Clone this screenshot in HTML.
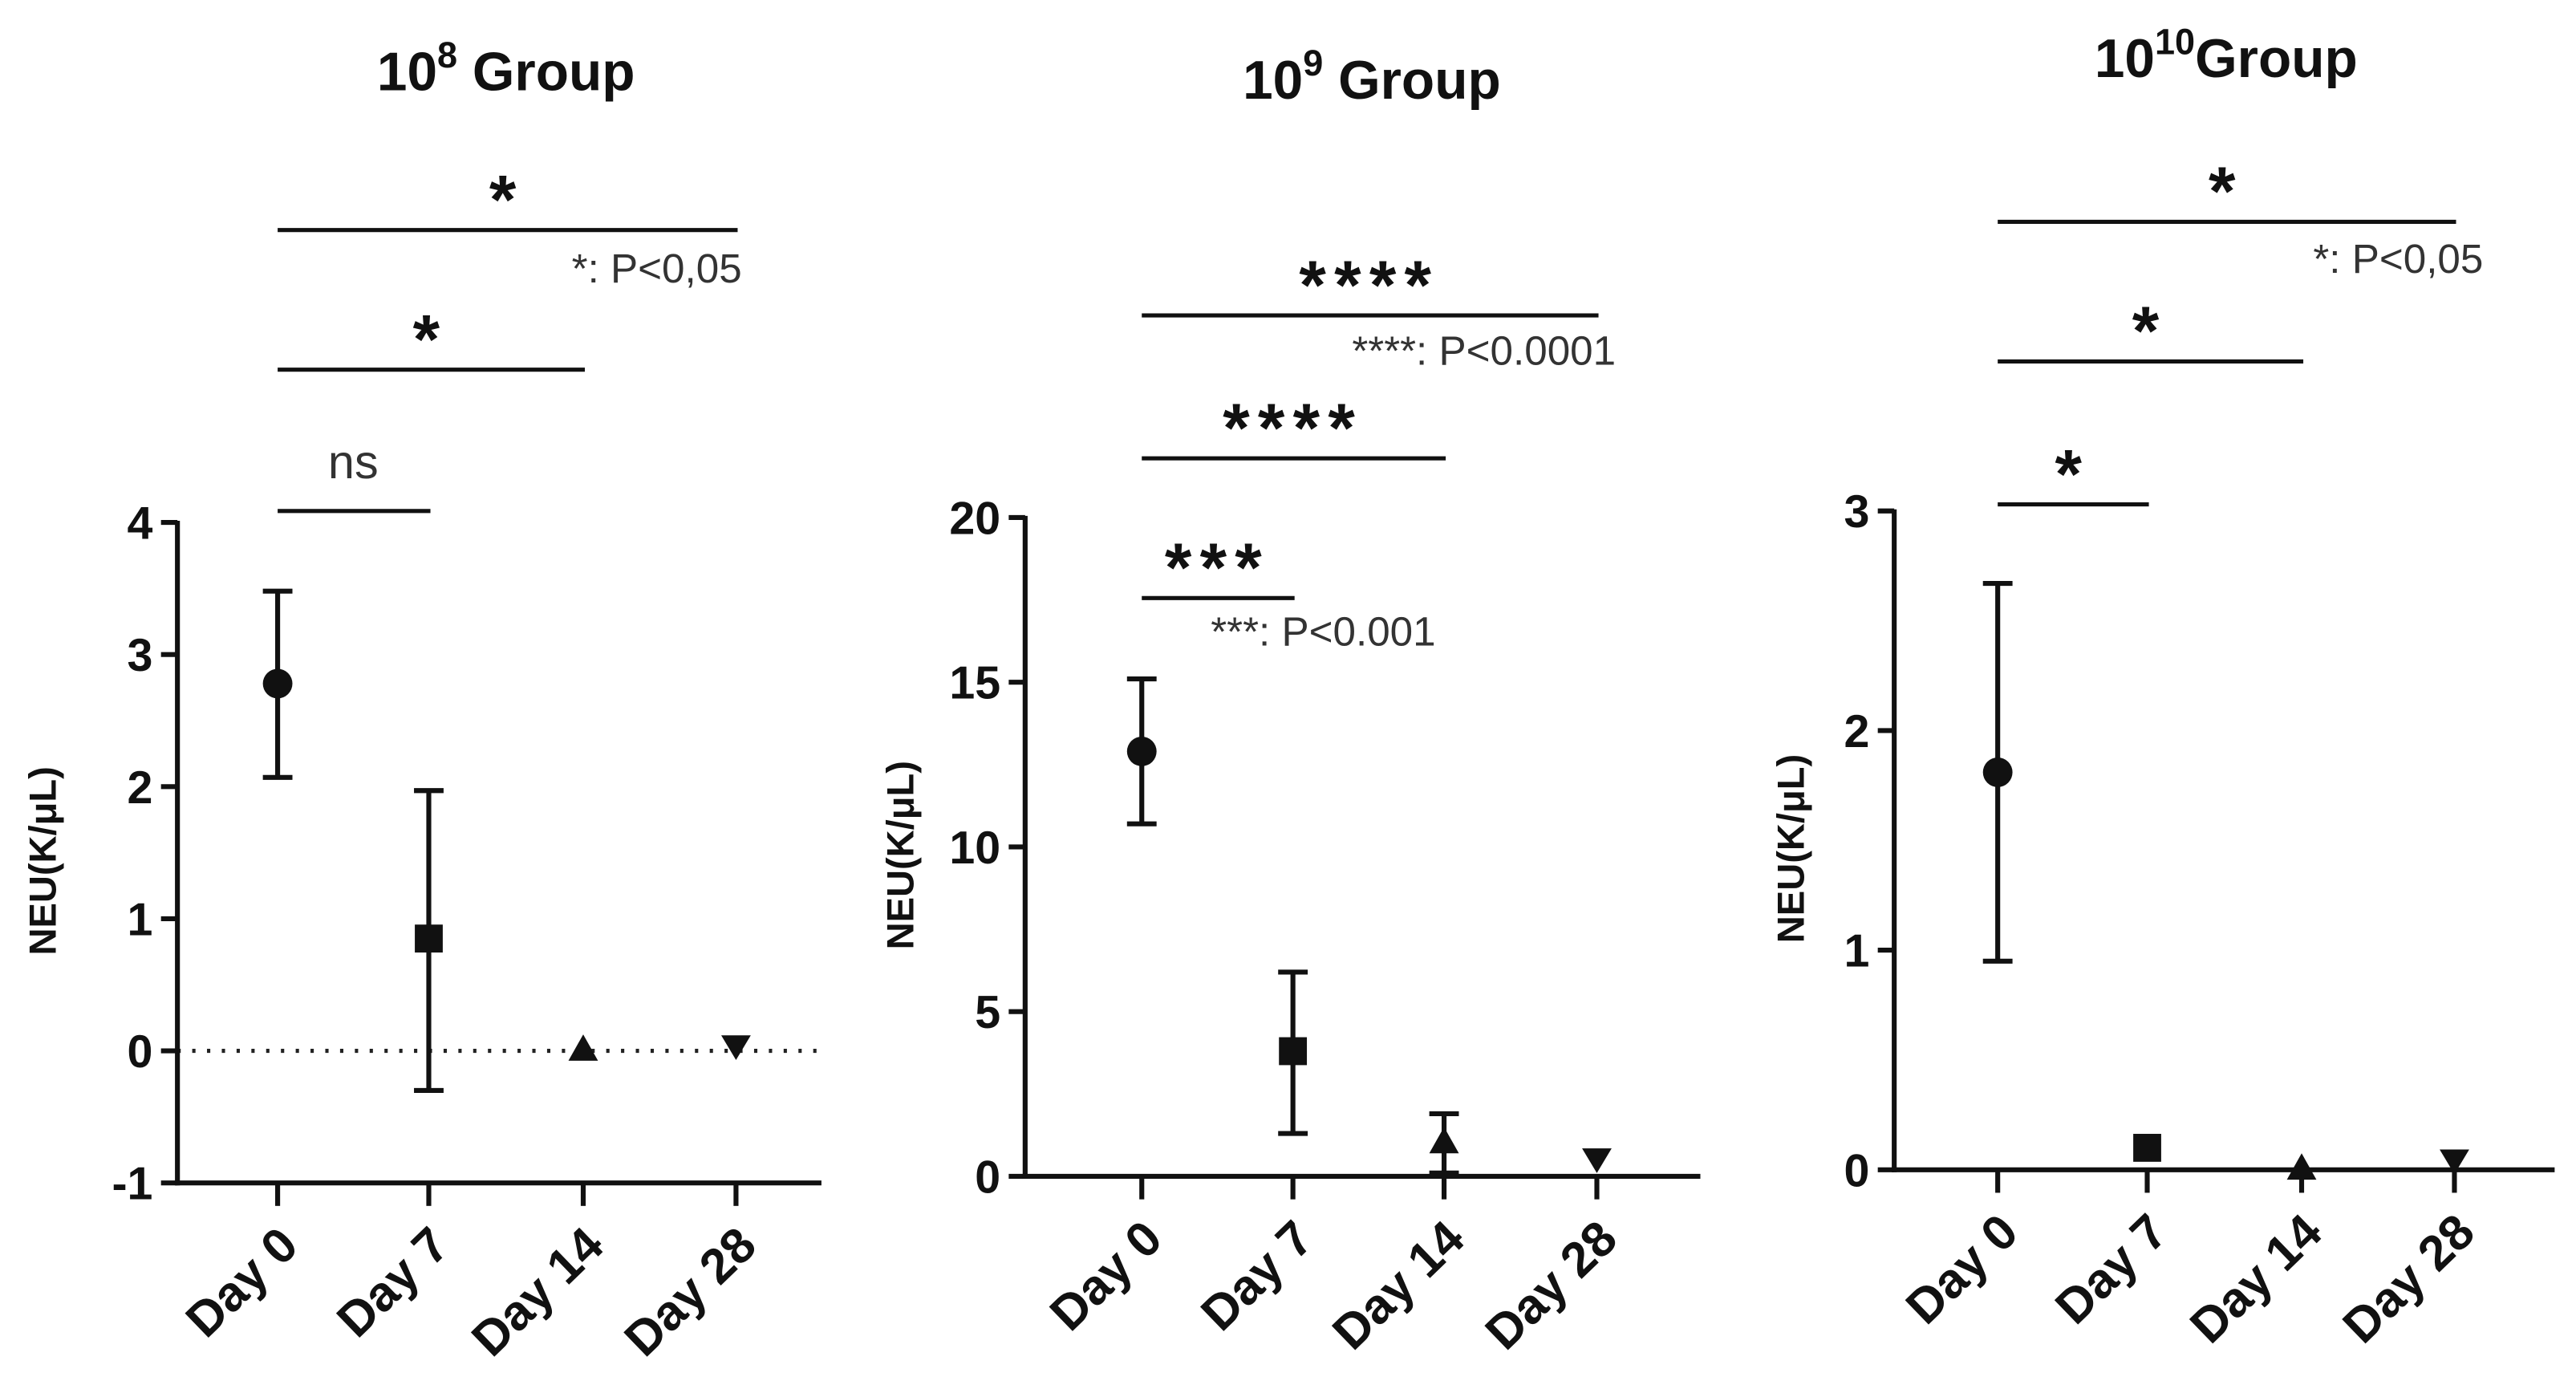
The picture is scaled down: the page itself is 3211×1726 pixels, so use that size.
<!DOCTYPE html>
<html><head><meta charset="utf-8"><style>
html,body{margin:0;padding:0;background:#fff;}
svg{display:block;font-family:"Liberation Sans",sans-serif;}
</style></head><body>
<svg id="chart" width="3211" height="1726" viewBox="0 0 1568 843" preserveAspectRatio="none" xmlns="http://www.w3.org/2000/svg"></svg>
<script>
const categories = ["Day 0","Day 7","Day 14","Day 28"];
const markers = ["circle","square","triUp","triDown"];
const g8Means = [2.78, 0.85, 0.0, 0.03];
const g8Lo = [2.07, -0.3, 0.0, 0.03];
const g8Hi = [3.48, 1.97, 0.0, 0.03];
const g8Ticks = [-1,0,1,2,3,4];
const g9Means = [12.9, 3.8, 1.0, 0.5];
const g9Lo = [10.7, 1.3, 0.1, 0.5];
const g9Hi = [15.1, 6.2, 1.9, 0.5];
const g9Ticks = [0,5,10,15,20];
const g10Means = [1.81, 0.1, 0.0, 0.04];
const g10Lo = [0.95, 0.1, 0.0, 0.04];
const g10Hi = [2.67, 0.1, 0.0, 0.04];
const g10Ticks = [0,1,2,3];

const NS="http://www.w3.org/2000/svg";
const svg=document.getElementById('chart');
function mk(tag,attrs,parent){const e=document.createElementNS(NS,tag);for(const k in attrs)e.setAttribute(k,attrs[k]);(parent||svg).appendChild(e);return e;}

const panels=[
 {id:"g8",exp:"8",sep:" ",means:g8Means,lo:g8Lo,hi:g8Hi,ticks:g8Ticks,ax:108,xEnd:500,yTop:318,yBot:720,cx:[169,261,355,448],titleX:308,titleY:55,ylx:34,dotted:true,
  brackets:[{y:140,a:0,b:3,t:"*"},{y:225,a:0,b:2,t:"*"},{y:311,a:0,b:1,t:"ns",ns:true}],
  notes:[{x:348,y:172,t:"*: P<0,05"}]},
 {id:"g9",exp:"9",sep:" ",means:g9Means,lo:g9Lo,hi:g9Hi,ticks:g9Ticks,ax:624,xEnd:1035,yTop:315,yBot:716,cx:[695,787,879,972],titleX:835,titleY:60,ylx:556,dotted:false,
  brackets:[{y:192,a:0,b:3,t:"****"},{y:279,a:0,b:2,t:"****"},{y:364,a:0,b:1,t:"***"}],
  notes:[{x:823,y:222,t:"****: P<0.0001"},{x:737,y:393,t:"***: P<0.001"}]},
 {id:"g10",exp:"10",sep:"",means:g10Means,lo:g10Lo,hi:g10Hi,ticks:g10Ticks,ax:1153,xEnd:1555,yTop:311,yBot:712,cx:[1216,1307,1401,1494],titleX:1355,titleY:47,ylx:1098,dotted:false,
  brackets:[{y:135,a:0,b:3,t:"*"},{y:220,a:0,b:2,t:"*"},{y:307,a:0,b:1,t:"*"}],
  notes:[{x:1408,y:166,t:"*: P<0,05"}]}
];

panels.forEach(p=>{
 const g=mk('g',{});
 
 
 const tmin=p.ticks[0],tmax=p.ticks[p.ticks.length-1];
 const y=v=>p.yBot-(v-tmin)/(tmax-tmin)*(p.yBot-p.yTop);
 const t=mk('text',{x:p.titleX,y:p.titleY,'text-anchor':'middle','font-size':33,'font-weight':'bold',fill:'#111'},g);
 
 
 const s1=mk('tspan',{},t);s1.textContent="10";
 const s2=mk('tspan',{dy:-14,'font-size':22},t);s2.textContent=p.exp;
 const s3=mk('tspan',{dy:14},t);s3.textContent=p.sep+"Group";
 const zl=mk('line',{x1:p.ax,x2:p.xEnd,y1:y(0),y2:y(0),stroke:'#222','stroke-width':p.dotted?2.5:1.5,'stroke-dasharray':p.dotted?'2,7':'2,5'},g);
 
 
 const ya=mk('line',{x1:p.ax,x2:p.ax,y1:p.yTop-1,y2:p.yBot+1.5,stroke:'#111','stroke-width':3},g);
 
 
 p.ticks.forEach(v=>{
  const tl=mk('line',{x1:p.ax-10,x2:p.ax,y1:y(v),y2:y(v),stroke:'#111','stroke-width':3},g);
  
  
  const tx=mk('text',{x:p.ax-15,y:y(v)+10,'text-anchor':'end','font-size':28,'font-weight':'bold',fill:'#111'},g);
  
  
  tx.textContent=String(v);
 });
 const yl=mk('text',{x:0,y:0,transform:`translate(${p.ylx},${(p.yTop+p.yBot)/2+5}) rotate(-90)`,'text-anchor':'middle','font-size':23,'font-weight':'bold',fill:'#111'},g);
 
 
 yl.textContent="NEU(K/μL)";
 const xa=mk('line',{x1:p.ax-1.5,x2:p.xEnd,y1:p.yBot,y2:p.yBot,stroke:'#111','stroke-width':3},g);
 
 
 categories.forEach((c,i)=>{
  const x=p.cx[i];
  const tk=mk('line',{x1:x,x2:x,y1:p.yBot,y2:p.yBot+14,stroke:'#111','stroke-width':3},g);
  
  
  const lb=mk('text',{x:0,y:0,transform:`translate(${x+14},${p.yBot+40}) rotate(-44)`,'text-anchor':'end','font-size':30,'font-weight':'bold',fill:'#111'},g);
  
  
  lb.textContent=c;
  if(p.hi[i]-p.lo[i]>0.001){
   const eb=mk('path',{d:`M${x},${y(p.lo[i])}V${y(p.hi[i])}M${x-9},${y(p.lo[i])}H${x+9}M${x-9},${y(p.hi[i])}H${x+9}`,stroke:'#111','stroke-width':3,fill:'none'},g);
   
   
  }
  const my=y(p.means[i]);let m;
  if(markers[i]==='circle') m=mk('circle',{cx:x,cy:my,r:9,fill:'#111'},g);
  else if(markers[i]==='square') m=mk('rect',{x:x-8.5,y:my-8.5,width:17,height:17,fill:'#111'},g);
  else if(markers[i]==='triUp') m=mk('path',{d:`M${x},${my-10}L${x+9},${my+6}L${x-9},${my+6}Z`,fill:'#111'},g);
  else m=mk('path',{d:`M${x},${my+8}L${x+9},${my-7}L${x-9},${my-7}Z`,fill:'#111'},g);
  
  
 });
 p.brackets.forEach(b=>{
  const x1=p.cx[b.a],x2=p.cx[b.b];
  const bl=mk('line',{x1:x1,x2:x2+1,y1:b.y,y2:b.y,stroke:'#111','stroke-width':2.5},g);
  
  
  const st=mk('text',{x:(x1+x2)/2,y:b.ns?b.y-20:b.y-4,'text-anchor':'middle','font-size':b.ns?29:42,'font-weight':b.ns?'normal':'bold','letter-spacing':b.ns?0:5,fill:b.ns?'#333':'#111'},g);
  
  
  st.textContent=b.t;
 });
 p.notes.forEach(n=>{
  const nt=mk('text',{x:n.x,y:n.y,'font-size':25,fill:'#333'},g);
  
  
  nt.textContent=n.t;
 });
});
</script>
</body></html>
